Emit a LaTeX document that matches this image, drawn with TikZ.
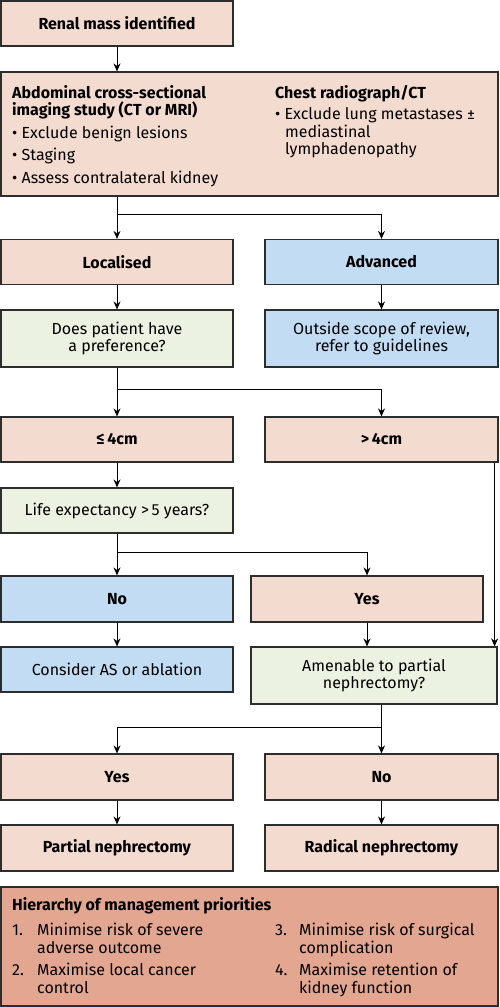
\documentclass[tikz,border=0pt]{standalone}
\usepackage{fontspec}
\setmainfont{Fira Sans}
\usetikzlibrary{arrows.meta}

\definecolor{warmfill}{RGB}{244,219,207}
\definecolor{coolfill}{RGB}{194,221,243}
\definecolor{queryfill}{RGB}{235,242,226}
\definecolor{notefill}{RGB}{227,167,145}
\definecolor{rimgray}{RGB}{45,45,45}

\begin{document}
\begin{tikzpicture}[x=1pt,y=-1pt,
    box/.style={draw=rimgray,line width=1.2pt,inner sep=0pt,align=center,
      minimum width=232pt,minimum height=45pt,font=\fontsize{16}{17.5}\selectfont},
    warm/.style={box,fill=warmfill},
    cool/.style={box,fill=coolfill},
    query/.style={box,fill=queryfill},
    txt/.style={inner sep=0pt,align=left,font=\fontsize{16}{17.5}\selectfont},
    arrow/.style={-{Stealth[length=8pt,width=7pt]},line width=0.9pt}]

  \useasboundingbox (0,0) rectangle (500,1007);

  \begin{scope}[every node/.style={}]
    \node[warm] (renal) at (117,23.5) {\textbf{Renal mass identified}};
    \node[warm,minimum width=497pt,minimum height=124pt] (imaging) at (249.5,134) {};
    \node[txt,anchor=north west] (imgleft) at (12,85)
      {\textbf{Abdominal cross-sectional}\\\textbf{imaging study (CT or MRI)}\\[5pt]
       \textbullet\ Exclude benign lesions\\[5pt]
       \textbullet\ Staging\\[5pt]
       \textbullet\ Assess contralateral kidney};
    \node[txt,anchor=north west] (imgright) at (275,85)
      {\textbf{Chest radiograph/CT}\\[4pt]
       \textbullet\ Exclude lung metastases ±\\
       \hspace{10pt}mediastinal\\
       \hspace{10pt}lymphadenopathy};

    \node[warm] (localised) at (117,262) {\textbf{Localised}};
    \node[cool,minimum width=233pt] (advanced) at (381.5,262) {\textbf{Advanced}};
    \node[query,minimum height=57pt] (preference) at (117,338.5) {Does patient have\\a preference?};
    \node[cool,minimum width=233pt,minimum height=57pt] (outside) at (381.5,338.5) {Outside scope of review,\\refer to guidelines};

    \node[warm] (small) at (117,439.5) {\textbf{≤\,4cm}};
    \node[warm,minimum width=233pt] (large) at (381.5,439.5) {\textbf{>\,4cm}};
    \node[query] (life) at (117,510.5) {Life expectancy >\,5 years?};

    \node[cool,minimum height=46pt] (nolife) at (117,599) {\textbf{No}};
    \node[warm,minimum height=46pt] (yeslife) at (367,599) {\textbf{Yes}};
    \node[cool] (consider) at (117,669.5) {Consider AS or ablation};
    \node[query,minimum width=246pt,minimum height=57pt] (amenable) at (374,675.5) {Amenable to partial\\nephrectomy?};

    \node[warm,minimum height=46pt] (yespart) at (117,777) {\textbf{Yes}};
    \node[warm,minimum width=233pt,minimum height=46pt] (nopart) at (381.5,777) {\textbf{No}};
    \node[warm,minimum height=46pt] (partial) at (117,848) {\textbf{Partial nephrectomy}};
    \node[warm,minimum width=233pt,minimum height=46pt] (radical) at (381.5,848) {\textbf{Radical nephrectomy}};

    \node[box,fill=notefill,minimum width=497pt,minimum height=119pt] (priorities) at (249.5,946.5) {};
    \node[txt,anchor=north west] (prioleft) at (12,897)
      {\textbf{Hierarchy of management priorities}\\[8pt]
       \makebox[25pt][l]{1.}Minimise risk of severe\\
       \hspace{25pt}adverse outcome\\[5pt]
       \makebox[25pt][l]{2.}Maximise local cancer\\
       \hspace{25pt}control};
    \node[txt,anchor=north west] (prioright) at (275,923)
      {\makebox[24pt][l]{3.}Minimise risk of surgical\\
       \hspace{24pt}complication\\[5pt]
       \makebox[24pt][l]{4.}Maximise retention of\\
       \hspace{24pt}kidney function};
  \end{scope}

  % junctions
  \coordinate (split1) at (117,214);
  \coordinate (split2) at (117,389);
  \coordinate (split3) at (117,552);
  \coordinate (split4) at (381.5,727);

  \draw[arrow] (renal) -- (renal |- imaging.north);
  \draw[arrow] (imaging.south -| localised) -- (localised);
  \draw[arrow] (split1) -| (advanced);
  \draw[arrow] (localised) -- (preference);
  \draw[arrow] (advanced) -- (outside);
  \draw[arrow] (preference) -- (small);
  \draw[arrow] (split2) -| (large);
  \draw[arrow] (small) -- (life);
  \draw[arrow] (life) -- (nolife);
  \draw[arrow] (split3) -| (yeslife);
  \draw[arrow] (nolife) -- (consider);
  \draw[arrow] (yeslife) -- (yeslife |- amenable.north);
  \draw[arrow] ([xshift=-4pt]large.south east) -- ([xshift=-4pt]large.south east |- amenable.north);
  \draw[arrow] (amenable.south -| nopart) -- (nopart);
  \draw[arrow] (split4) -| (yespart);
  \draw[arrow] (yespart) -- (partial);
  \draw[arrow] (nopart) -- (radical);

\end{tikzpicture}
\end{document}
